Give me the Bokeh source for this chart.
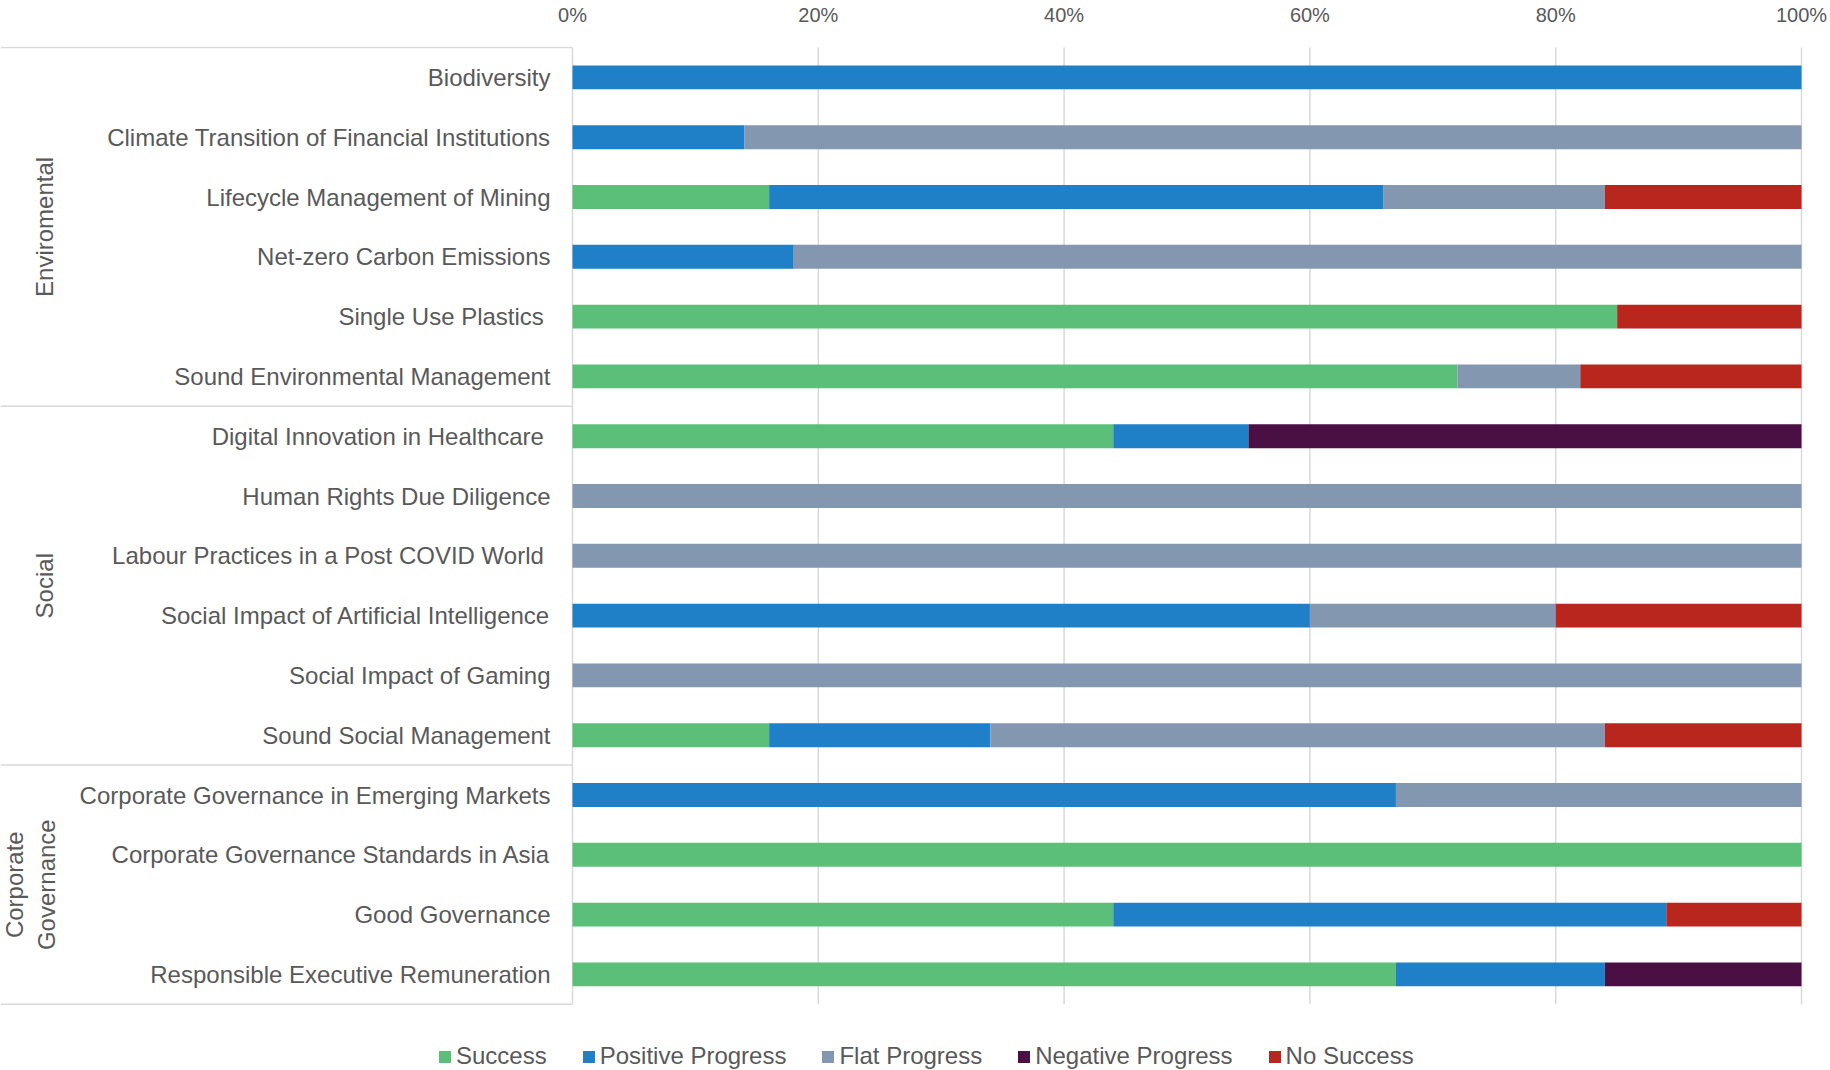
import math
from bokeh.plotting import figure
from bokeh.models import ColumnDataSource, Range1d, FixedTicker
from bokeh.core.properties import value
from bokeh.embed import file_html
from bokeh.resources import INLINE

# ---------------- data ----------------
groups = ["Enviromental", "Social", "Corporate\nGovernance"]
group_sizes = [6, 6, 4]
categories = [
    "Biodiversity",
    "Climate Transition of Financial Institutions",
    "Lifecycle Management of Mining",
    "Net-zero Carbon Emissions",
    "Single Use Plastics ",
    "Sound Environmental Management",
    "Digital Innovation in Healthcare ",
    "Human Rights Due Diligence",
    "Labour Practices in a Post COVID World ",
    "Social Impact of Artificial Intelligence",
    "Social Impact of Gaming",
    "Sound Social Management",
    "Corporate Governance in Emerging Markets",
    "Corporate Governance Standards in Asia",
    "Good Governance",
    "Responsible Executive Remuneration",
]
series = ["Success", "Positive Progress", "Flat Progress", "Negative Progress", "No Success"]
success = [0, 0, 16, 0, 85, 72, 44, 0, 0, 0, 0, 16, 0, 100, 44, 67]
positive_progress = [100, 14, 50, 18, 0, 0, 11, 0, 0, 60, 0, 18, 67, 0, 45, 17]
flat_progress = [0, 86, 18, 82, 0, 10, 0, 100, 100, 20, 100, 50, 33, 0, 0, 0]
negative_progress = [0, 0, 0, 0, 0, 0, 45, 0, 0, 0, 0, 0, 0, 0, 0, 16]
no_success = [0, 0, 16, 0, 15, 18, 0, 0, 0, 20, 0, 16, 0, 0, 11, 0]
ticks = [0, 20, 40, 60, 80, 100]
tick_labels = ["0%", "20%", "40%", "60%", "80%", "100%"]

# ---------------- style ----------------
colors = ["#5BBF79", "#1F80C7", "#8497B0", "#4A1043", "#B9261E"]
text_color = "#595959"
line_color = "#D9D9D9"
font = "Liberation Sans"

W, H = 1830, 1070
frame_top = 46          # frame starts here (top row border 1px lower)
zero_px = 572           # screen x of 0%
full_px = 1801          # screen x of 100%
row_px = 59.8

px_per_pct = (full_px - zero_px) / 100.0
n = len(categories)
x_start = -zero_px / px_per_pct
x_end = x_start + W / px_per_pct
frame_h = H - frame_top
y_end = n + 1.0 / row_px
y_start = y_end - frame_h / row_px


def px_to_pct(px):
    return (px - zero_px) / px_per_pct


p = figure(width=W, height=H, output_backend="svg", toolbar_location=None,
           x_range=Range1d(x_start, x_end), y_range=Range1d(y_start, y_end),
           x_axis_location="above", y_axis_location=None,
           min_border_left=0, min_border_right=0, min_border_bottom=0,
           min_border_top=frame_top)
p.outline_line_color = None
p.background_fill_color = "white"
p.border_fill_color = "white"
p.grid.visible = False

ax = p.xaxis[0]
ax.ticker = FixedTicker(ticks=ticks)
ax.major_label_overrides = {t: l for t, l in zip(ticks, tick_labels)}
ax.axis_line_color = None
ax.major_tick_line_color = None
ax.minor_tick_line_color = None
ax.major_tick_out = 0
ax.major_tick_in = 0
ax.major_label_standoff = 21
ax.major_label_text_font = font
ax.major_label_text_font_size = "20px"
ax.major_label_text_color = text_color

# gridlines (within the plot rows only)
p.segment(x0=ticks, y0=[0] * len(ticks), x1=ticks, y1=[n] * len(ticks),
          line_color=line_color, line_width=1.5)

# group separators in the label area
bounds = [0]
for s in group_sizes:
    bounds.append(bounds[-1] + s)
sep_y = [n - b for b in bounds]
p.segment(x0=[x_start] * len(sep_y), y0=sep_y, x1=[0] * len(sep_y), y1=sep_y,
          line_color=line_color, line_width=1.5)

# bars
ys = [n - i - 0.5 for i in range(n)]
data = dict(y=ys, cat=categories)
for name, vals in zip(series, [success, positive_progress, flat_progress,
                               negative_progress, no_success]):
    data[name] = vals
src = ColumnDataSource(data)
renderers = p.hbar_stack(series, y="y", height=0.4, color=colors, source=src,
                         legend_label=series, line_width=0)

# category labels
shown = [c[:-1] + "\u00a0" if c.endswith(" ") else c for c in categories]
p.text(x=[px_to_pct(550)] * n, y=ys, text=shown, text_align="right", text_baseline="middle",
       text_font=value(font), text_font_size="24px", text_color=text_color)

# group labels
gy = [n - (bounds[i] + bounds[i + 1]) / 2 for i in range(len(groups))]
gx = [px_to_pct(30) if "\n" in g else px_to_pct(44) for g in groups]
p.text(x=gx, y=gy, text=groups, angle=math.pi / 2, text_align="center",
       text_baseline="middle", text_font=value(font), text_font_size="24px",
       text_color=text_color, text_line_height=1.17)

# legend
lg = p.legend[0]
lg.orientation = "horizontal"
lg.location = (437, 0)
lg.glyph_width = 15
lg.glyph_height = 15
lg.label_standoff = 4
lg.spacing = 34
lg.padding = 0
lg.margin = 0
lg.border_line_color = None
lg.background_fill_alpha = 0
lg.label_text_font = font
lg.label_text_font_size = "24px"
lg.label_text_color = text_color

open("out.html", "w").write(file_html(p, INLINE))
